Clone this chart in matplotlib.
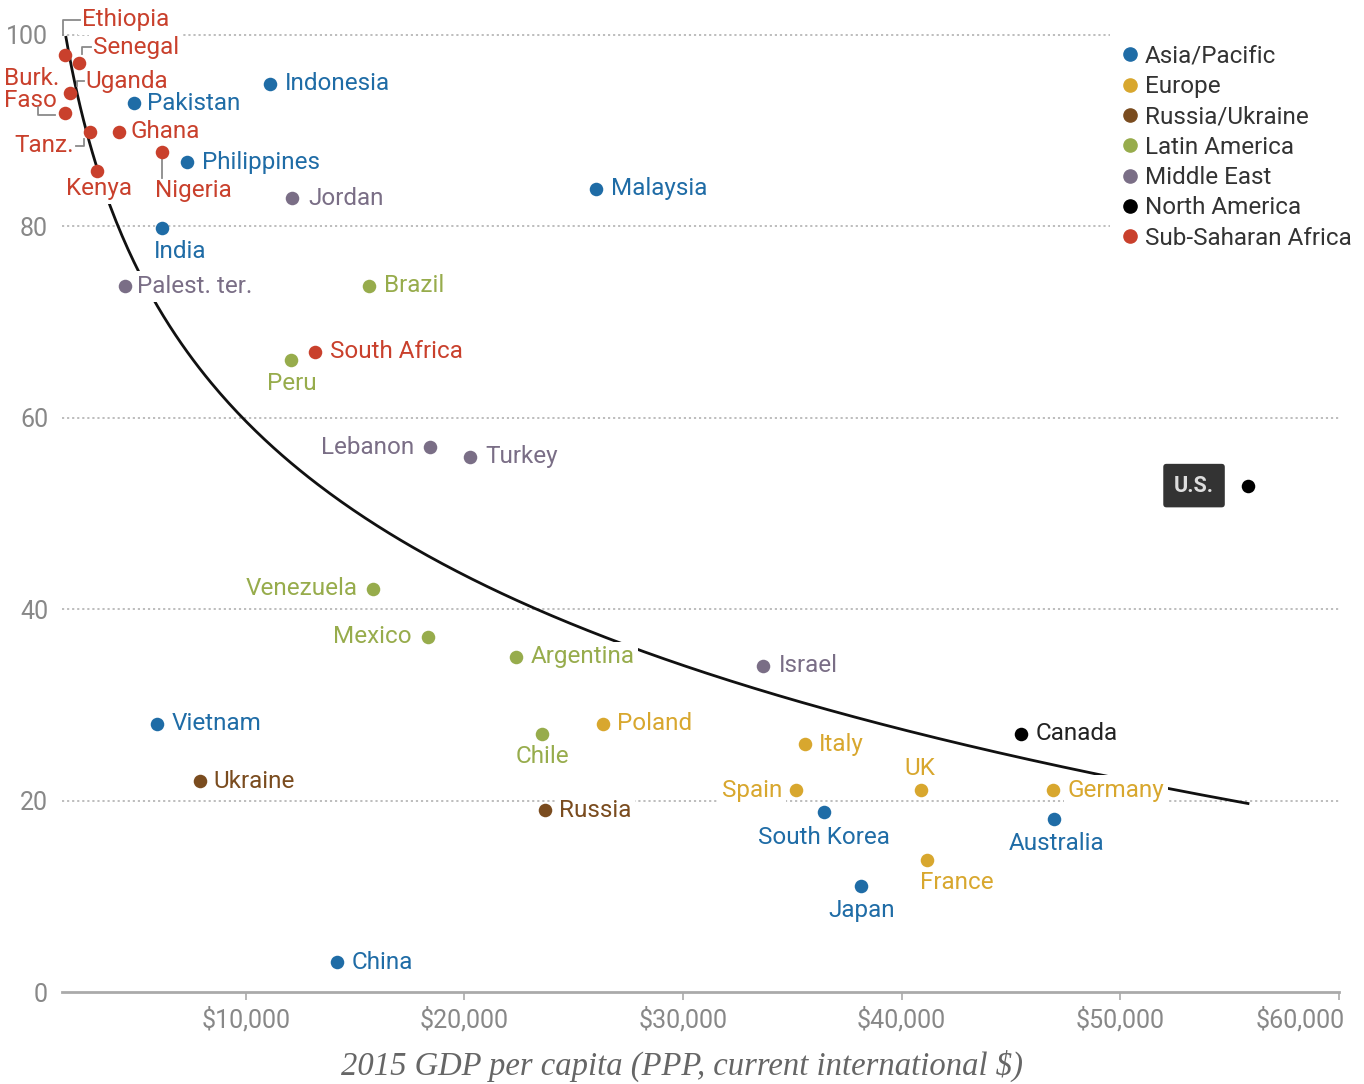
import numpy as np
import matplotlib
matplotlib.use('Agg')
import matplotlib.pyplot as plt
import matplotlib.transforms as mtransforms
from matplotlib.lines import Line2D
from matplotlib.patches import Rectangle

# data
countries = ['Ethiopia', 'Senegal', 'Uganda', 'Burk.\nFaso', 'Tanz.', 'Kenya', 'Ghana', 'Nigeria',
             'Pakistan', 'Indonesia', 'Philippines', 'Jordan', 'Malaysia', 'India', 'Palest. ter.',
             'Brazil', 'Peru', 'South Africa', 'Lebanon', 'Turkey', 'U.S.', 'Venezuela', 'Mexico',
             'Argentina', 'Israel', 'Vietnam', 'Chile', 'Poland', 'Italy', 'Canada', 'Ukraine',
             'Spain', 'UK', 'Germany', 'Russia', 'South Korea', 'Australia', 'France', 'Japan', 'China']
regions = ['SSA', 'SSA', 'SSA', 'SSA', 'SSA', 'SSA', 'SSA', 'SSA',
           'AP', 'AP', 'AP', 'ME', 'AP', 'AP', 'ME',
           'LA', 'LA', 'SSA', 'ME', 'ME', 'NA', 'LA', 'LA',
           'LA', 'ME', 'AP', 'LA', 'EU', 'EU', 'NA', 'RU',
           'EU', 'EU', 'EU', 'RU', 'AP', 'AP', 'EU', 'AP', 'AP']
gdp = [1730, 2370, 1960, 1730, 2870, 3190, 4200, 6160,
       4880, 11100, 7300, 12100, 26040, 6160, 4470,
       15620, 12060, 13150, 18410, 20280, 55840, 15800, 18320,
       22340, 33670, 5930, 23530, 26360, 35590, 45460, 7900,
       35180, 40890, 46930, 23710, 36460, 46970, 41170, 38150, 14160]
pct = [97.9, 97.0, 93.9, 91.8, 89.8, 85.8, 89.8, 87.8,
       92.9, 94.9, 86.7, 82.9, 83.9, 79.8, 73.8,
       73.8, 66.0, 66.9, 56.9, 55.9, 52.9, 42.1, 37.1,
       35.0, 34.1, 28.0, 27.0, 28.0, 25.9, 27.0, 22.0,
       21.1, 21.1, 21.1, 19.0, 18.8, 18.1, 13.8, 11.1, 3.1]

# log fit drawn on the chart: y = a - b*ln(x)
fit_a, fit_b = 273.6, 23.23
fit_range = (1770, 55900)

region_order = ['AP', 'EU', 'RU', 'LA', 'ME', 'NA', 'SSA']
region_names = {'AP': 'Asia/Pacific', 'EU': 'Europe', 'RU': 'Russia/Ukraine', 'LA': 'Latin America',
                'ME': 'Middle East', 'NA': 'North America', 'SSA': 'Sub-Saharan Africa'}
region_colors = {'AP': '#1f6ca6', 'EU': '#d8a72e', 'RU': '#7a4c1f', 'LA': '#97ac4c',
                 'ME': '#7a6e86', 'NA': '#000000', 'SSA': '#c9402c'}
text_colors = dict(region_colors)
text_colors['NA'] = '#222222'

# label placement: (dx, dy) in pixels (dy down), horizontal alignment
place = {
    'Ethiopia': (17, -35, 'left'), 'Senegal': (14, -16, 'left'), 'Uganda': (16, -12, 'left'),
    'Burk.\nFaso': (-5, -24, 'right'), 'Tanz.': (-16, 13, 'right'), 'Kenya': (2, 18, 'center'),
    'Ghana': (12, -1, 'left'), 'Nigeria': (-7, 39, 'left'), 'Pakistan': (13, 1, 'left'),
    'Indonesia': (15, 0, 'left'), 'Philippines': (15, 0, 'left'), 'Jordan': (17, 0, 'left'),
    'Malaysia': (15, 0, 'left'), 'India': (-8, 23, 'left'), 'Palest. ter.': (12, 1, 'left'),
    'Brazil': (15, 0, 'left'), 'Peru': (1, 23, 'center'), 'South Africa': (15, 0, 'left'),
    'Lebanon': (-15, 0, 'right'), 'Turkey': (15, 0, 'left'), 'Venezuela': (-15, 0, 'right'),
    'Mexico': (-16, 0, 'right'), 'Argentina': (15, 0, 'left'), 'Israel': (16, 0, 'left'),
    'Vietnam': (15, 0, 'left'), 'Chile': (1, 23, 'center'), 'Poland': (14, 0, 'left'),
    'Italy': (14, 0, 'left'), 'Canada': (15, 0, 'left'), 'Ukraine': (14, 0, 'left'),
    'Spain': (-14, 0, 'right'), 'UK': (-1, -22, 'center'), 'Germany': (14, 0, 'left'),
    'Russia': (14, 0, 'left'), 'South Korea': (0, 25, 'center'), 'Australia': (2, 25, 'center'),
    'France': (30, 23, 'center'), 'Japan': (0, 25, 'center'), 'China': (15, 0, 'left'),
}
# small bracket / leader lines, pixel offsets from the dot (dy down)
leaders = {
    'Ethiopia': [(15, -35), (-2, -35), (-2, -20)],
    'Senegal': [(12, -16), (3, -16), (3, -9)],
    'Uganda': [(14, -12), (7, -12), (7, -7)],
    'Burk.\nFaso': [(-27, -6), (-27, 2), (-10, 2)],
    'Tanz.': [(-14, 14), (-6, 14), (-6, 7)],
    'Nigeria': [(0, 7), (0, 26)],
}

plt.rcParams['font.family'] = ['Roboto', 'DejaVu Sans']
fig = plt.figure(figsize=(13.64, 10.84), dpi=100)
ax = fig.add_axes([62 / 1364, 92 / 1084, 1277 / 1364, 986 / 1084])

ax.set_xlim(1600, 60000)
ax.set_ylim(0, 103)

for yv in [20, 40, 60, 80, 100]:
    ax.axhline(yv, color='#b8b8b8', lw=1.3, ls=(0, (1.2, 1.6)), zorder=0)

# white panel behind the legend (hides grid lines there), in pixels
ax.add_patch(Rectangle((1110, 1084 - 258), 254, 250, transform=None, facecolor='white',
                       edgecolor='none', zorder=0.5, clip_on=False))

xs = np.linspace(fit_range[0], fit_range[1], 400)
ax.plot(xs, fit_a - fit_b * np.log(xs), color='#111111', lw=2.0, zorder=1,
        solid_capstyle='butt')

for name, reg, x, y in zip(countries, regions, gdp, pct):
    ax.scatter(x, y, s=95, color=region_colors[reg], zorder=4, linewidths=0, clip_on=False)
    if name == 'U.S.':
        ax.annotate(name, (x, y), xytext=(-54, 0), textcoords='offset pixels',
                    ha='center', va='center', fontsize=15.5, color='#dddddd', fontweight='bold',
                    bbox=dict(boxstyle='round,pad=0.5,rounding_size=0.15', fc='#333333', ec='none'),
                    zorder=5)
        continue
    dx, dy, ha = place[name]
    ax.annotate(name, (x, y), xytext=(dx, -dy), textcoords='offset pixels',
                ha=ha, va='center', multialignment='left', fontsize=17.5, color=text_colors[reg],
                linespacing=0.95, zorder=3, annotation_clip=False,
                bbox=dict(boxstyle='square,pad=0.15', fc='white', ec='none'))
    if name in leaders:
        tr = mtransforms.Affine2D().scale(1, -1) + mtransforms.ScaledTranslation(x, y, ax.transData)
        px, py = zip(*leaders[name])
        ax.add_line(Line2D(px, py, transform=tr, color='#8a8a8a', lw=1.3, zorder=3, clip_on=False))

# axes styling
for s in ['top', 'right', 'left']:
    ax.spines[s].set_visible(False)
ax.spines['bottom'].set_color('#aaaaaa')
ax.spines['bottom'].set_linewidth(2)
ax.set_xticks([10000, 20000, 30000, 40000, 50000, 60000])
ax.set_xticklabels(['$10,000', '$20,000', '$30,000', '$40,000', '$50,000', '$60,000'])
ax.set_yticks([0, 20, 40, 60, 80, 100])
ax.tick_params(axis='x', length=6, width=1.2, color='#aaaaaa', labelsize=18, labelcolor='#888888', pad=5)
ax.tick_params(axis='y', length=0, labelsize=18, labelcolor='#888888', pad=10)
last = ax.get_xticklabels()[-1]
last.set_horizontalalignment('right')
last.set_transform(last.get_transform() + mtransforms.Affine2D().translate(6, 0))

fig.text(682 / 1364, 1 - 1066 / 1084, '2015 GDP per capita (PPP, current international $)',
         fontsize=23.5, style='italic', family='Liberation Serif', color='#666666',
         ha='center', va='center')

handles = [Line2D([], [], marker='o', ls='none', color=region_colors[k], markersize=9.5)
           for k in region_order]
labels = [region_names[k] for k in region_order]
leg = ax.legend(handles, labels, loc='upper left', bbox_to_anchor=(1118 / 1364, 1 - 40 / 1084),
                bbox_transform=fig.transFigure, frameon=True, fontsize=17.5, handlelength=0.6,
                handletextpad=0.3, labelspacing=0.3, borderpad=0.2, borderaxespad=0)
leg.get_frame().set_facecolor('white')
leg.get_frame().set_edgecolor('none')
leg.get_frame().set_alpha(1)
for t in leg.get_texts():
    t.set_color('#333333')
leg.set_zorder(6)

fig.savefig('out.png', dpi=100)
